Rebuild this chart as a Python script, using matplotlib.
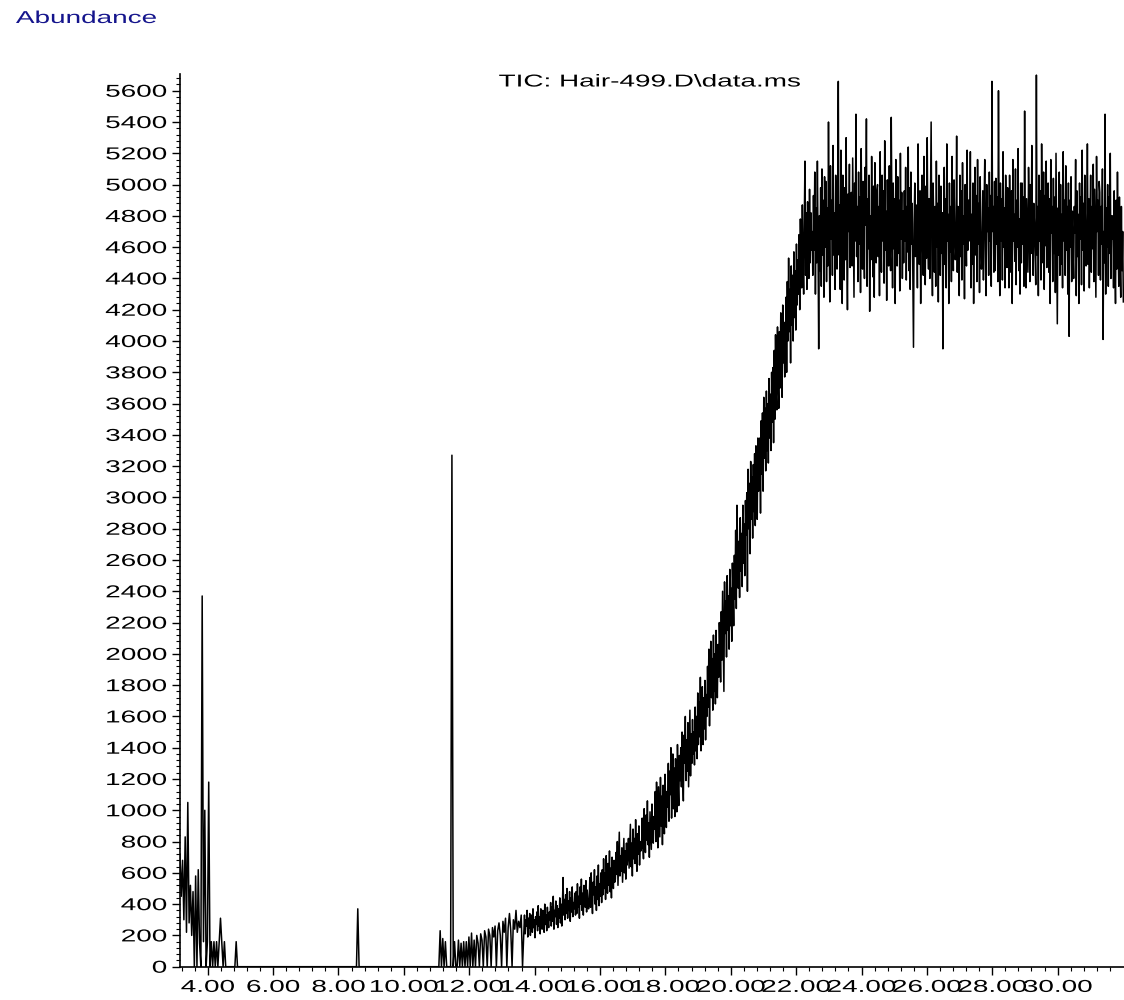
# TIC chromatogram, Hair-499 run
import numpy as np
import matplotlib
matplotlib.use("Agg")
import matplotlib.pyplot as plt
from matplotlib.patheffects import AbstractPathEffect
from matplotlib.transforms import Affine2D

# scan start times (min) and spacing for each stretch of the run
front_start, front_step = 3.15, 0.04
rise_start, rise_step = 13.67, 0.02
plateau_start, plateau_step = 22.49, 0.02

# abundance, split by region
early = [720, 450, 680, 300, 830, 220, 1050, 280, 520, 200,
         480, 0, 580, 0, 620, 150, 0, 2370, 160, 1000,
         0, 160, 1180, 0, 160, 0, 160, 0, 160, 0,
         160, 310, 160, 0, 160, 0, 0, 0, 0, 0,
         0, 0, 0, 160, 0]
quiet1 = [0] * 91
peak_861 = [370]
quiet2 = [0] * 62
bleed = [230, 0, 180, 0, 160, 0, 0, 0, 0, 3270,
         0, 160, 0, 0, 170, 0, 150, 0, 160, 0,
         160, 0, 190, 0, 215, 0, 170, 0, 200, 150,
         0, 210, 170, 0, 230, 190, 0, 240, 200, 0,
         250, 190, 260, 0, 230, 280, 200, 0, 290, 220,
         310, 0, 250, 340, 230, 0, 300, 240, 360, 220,
         290, 250, 330, 0]
rise = [230, 330, 210, 300, 260, 360, 190, 310, 245, 340,
        200, 290, 330, 220, 370, 250, 300, 185, 320, 270,
        350, 230, 390, 260, 320, 210, 370, 280, 240, 360,
        300, 220, 400, 270, 330, 230, 380, 290, 250, 350,
        300, 410, 260, 380, 290, 450, 240, 360, 320, 420,
        270, 390, 250, 370, 310, 440, 280, 400, 260, 390,
        570, 330, 430, 300, 460, 340, 500, 310, 420, 360,
        480, 290, 440, 350, 510, 320, 410, 370, 470, 330,
        480, 340, 530, 380, 450, 310, 510, 400, 560, 360,
        470, 330, 520, 410, 380, 550, 350, 490, 420, 370,
        420, 570, 380, 600, 440, 340, 540, 460, 620, 400,
        510, 360, 580, 430, 650, 390, 530, 450, 600, 410,
        620, 460, 690, 500, 600, 430, 710, 540, 470, 660,
        520, 740, 480, 630, 440, 700, 560, 500, 680, 540,
        560, 730, 590, 800, 520, 690, 860, 580, 710, 610,
        760, 540, 680, 820, 600, 740, 560, 790, 650, 720,
        820, 630, 770, 910, 640, 790, 580, 880, 690, 820,
        660, 940, 700, 610, 850, 720, 900, 650, 800, 740,
        760, 950, 790, 690, 1010, 850, 730, 970, 810, 1060,
        780, 920, 700, 990, 860, 750, 1040, 880, 790, 960,
        880, 1120, 800, 1180, 940, 760, 1150, 990, 830, 1210,
        900, 1090, 780, 1160, 980, 850, 1230, 1020, 890, 1120,
        1020, 1300, 930, 1250, 1100, 1400, 950, 1220, 1360, 1010,
        1270, 960, 1330, 1120, 990, 1420, 1160, 1030, 1350, 1190,
        1400, 1150, 1500, 1220, 1060, 1480, 1300, 1600, 1190, 1450,
        1250, 1560, 1150, 1380, 1640, 1220, 1490, 1300, 1580, 1360,
        1500, 1290, 1660, 1380, 1600, 1330, 1750, 1420, 1690, 1470,
        1850, 1380, 1640, 1790, 1420, 1720, 1520, 1830, 1450, 1740,
        1600, 1920, 1660, 2030, 1540, 1880, 2080, 1720, 1970, 1640,
        2120, 1760, 2000, 1680, 2150, 1830, 1720, 2060, 1850, 2200,
        2040, 1820, 2270, 1960, 2400, 2060, 1760, 2460, 2130, 2340,
        1980, 2500, 2150, 2370, 2030, 2540, 2180, 2420, 2080, 2580,
        2400, 2180, 2630, 2350, 2790, 2290, 2950, 2660, 2420, 2720,
        2360, 2870, 2530, 2770, 2430, 2950, 2580, 2830, 2500, 2980,
        2760, 3030, 2400, 3180, 2800, 3090, 2640, 3230, 2860, 3130,
        2740, 3210, 2910, 3280, 2820, 3330, 2990, 2860, 3380, 3040,
        3080, 3380, 2900, 3490, 3150, 3540, 3040, 3640, 3250, 3570,
        3170, 3680, 3300, 3600, 3220, 3760, 3380, 3660, 3300, 3800,
        3480, 3830, 3350, 3940, 3500, 4040, 3650, 3560, 4090, 3770,
        3570, 4060, 3700, 4180, 3810, 3640, 4230, 3860, 4120, 3770,
        3920, 4280, 3800, 4380, 4000, 4530, 4060, 4330, 3860, 4480,
        4100, 4420, 4000, 4570, 4150, 4450, 4070, 4620, 4230, 4520,
        4300, 4680, 4200, 4780, 4460, 4340, 4870, 4510, 4300, 4770,
        5150, 4420, 4820, 4330, 4890, 4560, 4400, 4970, 4500, 4820,
        4580]
plateau = [4700, 4420, 4930, 4580, 5080, 4300, 4850, 4500, 5150, 4620,
           3950, 4800, 4450, 4980, 4350, 5100, 4550, 4900, 4280, 5050,
           4600, 5020, 4380, 4850, 4480, 5400, 4700, 4250, 5120, 4650,
           4900, 4420, 5250, 4550, 4820, 4330, 5060, 4720, 4460, 4950,
           5660, 4550, 4870, 4330, 5220, 4680, 4240, 5060, 4800, 4390,
           4980, 4520, 5300, 4600, 4200, 4940, 4700, 5130, 4470, 4880,
           4950, 4480, 5170, 4700, 4280, 5010, 4640, 5450, 4540, 4860,
           4380, 5080, 4620, 4920, 4310, 5230, 4750, 4460, 5020, 4600,
           4400, 5110, 4740, 5420, 4350, 4910, 4590, 5060, 4190, 4800,
           4520, 5180, 4670, 4410, 4990, 4280, 5140, 4730, 4500, 4960,
           5000, 4540, 4860, 4290, 5210, 4690, 4440, 5060, 4640, 4960,
           4370, 5280, 4580, 4830, 4260, 5030, 4710, 4480, 5120, 4620,
           4450, 5430, 4800, 4340, 5010, 4590, 4910, 4240, 5160, 4690,
           4480, 5050, 4560, 4900, 4320, 5200, 4650, 4950, 4400, 4830,
           4500, 4960, 4640, 5110, 4390, 4860, 4570, 5240, 4450, 4980,
           4330, 5080, 4620, 4880, 4410, 3960, 4750, 5010, 4540, 4870,
           4800, 4340, 5260, 4690, 4490, 4960, 4240, 4860, 5060, 4590,
           4420, 5180, 4700, 4360, 4990, 4530, 5300, 4640, 4460, 4910,
           4400, 4910, 5400, 4640, 4290, 5010, 4750, 4440, 4860, 4350,
           5150, 4600, 4880, 4250, 5060, 4680, 4420, 4990, 4560, 4820,
           3950, 4700, 5110, 4490, 4910, 4340, 5260, 4640, 4810, 4240,
           5010, 4570, 4860, 4380, 5180, 4660, 4450, 5030, 4720, 4520,
           4600, 5310, 4440, 4860, 4690, 4290, 5060, 4540, 4960, 4390,
           5140, 4620, 4800, 4270, 5000, 4710, 4480, 5220, 4580, 4900,
           4900, 4640, 5210, 4340, 4810, 4490, 5010, 4240, 4760, 5110,
           4550, 4930, 4380, 5160, 4620, 4880, 4310, 5050, 4700, 4460,
           4550, 4960, 4390, 4860, 5160, 4590, 4290, 5000, 4700, 4850,
           4420, 5080, 4640, 4930, 4350, 5660, 4700, 4860, 4440, 5020,
           4450, 5040, 4620, 4920, 4380, 5600, 4750, 4290, 5010, 4640,
           4910, 4390, 5210, 4600, 4850, 4340, 5060, 4720, 4470, 4980,
           4850, 4340, 5060, 4690, 4440, 4960, 4240, 5160, 4640, 4810,
           4510, 5100, 4360, 4900, 4600, 5230, 4450, 4780, 4300, 5010,
           4500, 5010, 4620, 4920, 4350, 5470, 4600, 4340, 4910, 4690,
           4440, 5110, 4800, 4380, 5000, 4560, 5250, 4650, 4420, 4880,
           4750, 4560, 4360, 5700, 4550, 4860, 4290, 5060, 4640, 4960,
           4390, 5260, 4740, 4500, 5080, 4330, 4930, 4610, 5150, 4470,
           4600, 5010, 4440, 4910, 4240, 5160, 4690, 4860, 4380, 5040,
           4560, 4920, 4310, 5200, 4640, 4110, 4850, 4550, 5080, 4420,
           5000, 4490, 4810, 4340, 5210, 4640, 4900, 4420, 5120, 4580,
           4860, 4300, 5010, 4030, 4900, 4600, 5050, 4380, 4830, 4560,
           4400, 4860, 4690, 5160, 4290, 4960, 4540, 4810, 4240, 5010,
           4650, 4920, 4360, 5220, 4580, 4880, 4320, 5060, 4720, 4480,
           4650, 5260, 4490, 4910, 4340, 4760, 5060, 4440, 4860, 4590,
           5130, 4380, 4970, 4620, 4280, 5180, 4700, 4900, 4420, 5020,
           4950, 4390, 4860, 4620, 5100, 4010, 4700, 4500, 5450, 4300,
           4850, 4600, 5000, 4350, 4920, 4560, 5200, 4400, 4800, 4650,
           4800, 4340, 4960, 4540, 4240, 4900, 4460, 5080, 4620, 4350,
           4920, 4500, 4280, 4860, 4450, 4700, 4250]

front = early + quiet1 + peak_861 + quiet2 + bleed
rt = np.concatenate([front_start + front_step * np.arange(len(front)),
                     rise_start + rise_step * np.arange(len(rise)),
                     plateau_start + plateau_step * np.arange(len(plateau))])
tic = np.array(front + rise + plateau, dtype=float)

x_major = np.arange(4, 31, 2)
y_major = np.arange(0, 5601, 200)


class Wide(AbstractPathEffect):
    # the printout fonts are squashed wide, stretch glyphs sideways
    def __init__(self, sx=1.62, anchor="center"):
        super().__init__()
        self.sx = sx
        self.anchor = anchor

    def draw_path(self, renderer, gc, tpath, affine, rgbFace=None):
        ext = tpath.get_extents(affine)
        if self.anchor == "left":
            x0 = ext.x0
        elif self.anchor == "right":
            x0 = ext.x1
        else:
            x0 = 0.5 * (ext.x0 + ext.x1)
        aff = affine + Affine2D().translate(-x0, 0).scale(self.sx, 1).translate(x0, 0)
        renderer.draw_path(gc, tpath, aff, rgbFace)


plt.rcParams["font.family"] = ["Liberation Sans", "DejaVu Sans"]
fs = 12.4

fig = plt.figure(figsize=(11.24, 10), dpi=100)
ax = fig.add_axes([0.1601, 0.0333, 0.8399, 0.8927])

ax.plot(rt, tic, color="black", lw=1.1)

ax.set_xlim(3.15, 32.03)
ax.set_ylim(0, 5707)
ax.spines["top"].set_visible(False)
ax.spines["right"].set_visible(False)
ax.spines["left"].set_linewidth(1.2)
ax.spines["bottom"].set_linewidth(1.2)

ax.set_xticks(x_major)
ax.set_xticklabels(["%.2f" % v for v in x_major])
ax.set_xticks(np.arange(3.2, 32.0, 0.4), minor=True)
ax.set_yticks(y_major)
ax.set_yticklabels([str(v) for v in y_major])
ax.set_yticks(np.arange(0, 5700, 40), minor=True)

ax.tick_params(which="major", direction="out", length=5.5, width=1, labelsize=fs, pad=4)
ax.tick_params(which="minor", direction="out", length=3, width=0.8)

plt.setp(ax.get_xticklabels(), path_effects=[Wide(anchor="center")])
plt.setp(ax.get_yticklabels(), path_effects=[Wide(anchor="right")])

fig.text(0.0142, 0.9815, "Abundance", color="#14148c", fontsize=fs,
         ha="left", va="center", path_effects=[Wide(anchor="left")])
fig.text(0.578, 0.918, "TIC: Hair-499.D\\data.ms", fontsize=fs,
         ha="center", va="center", path_effects=[Wide()])

fig.savefig("out.png", dpi=100)
